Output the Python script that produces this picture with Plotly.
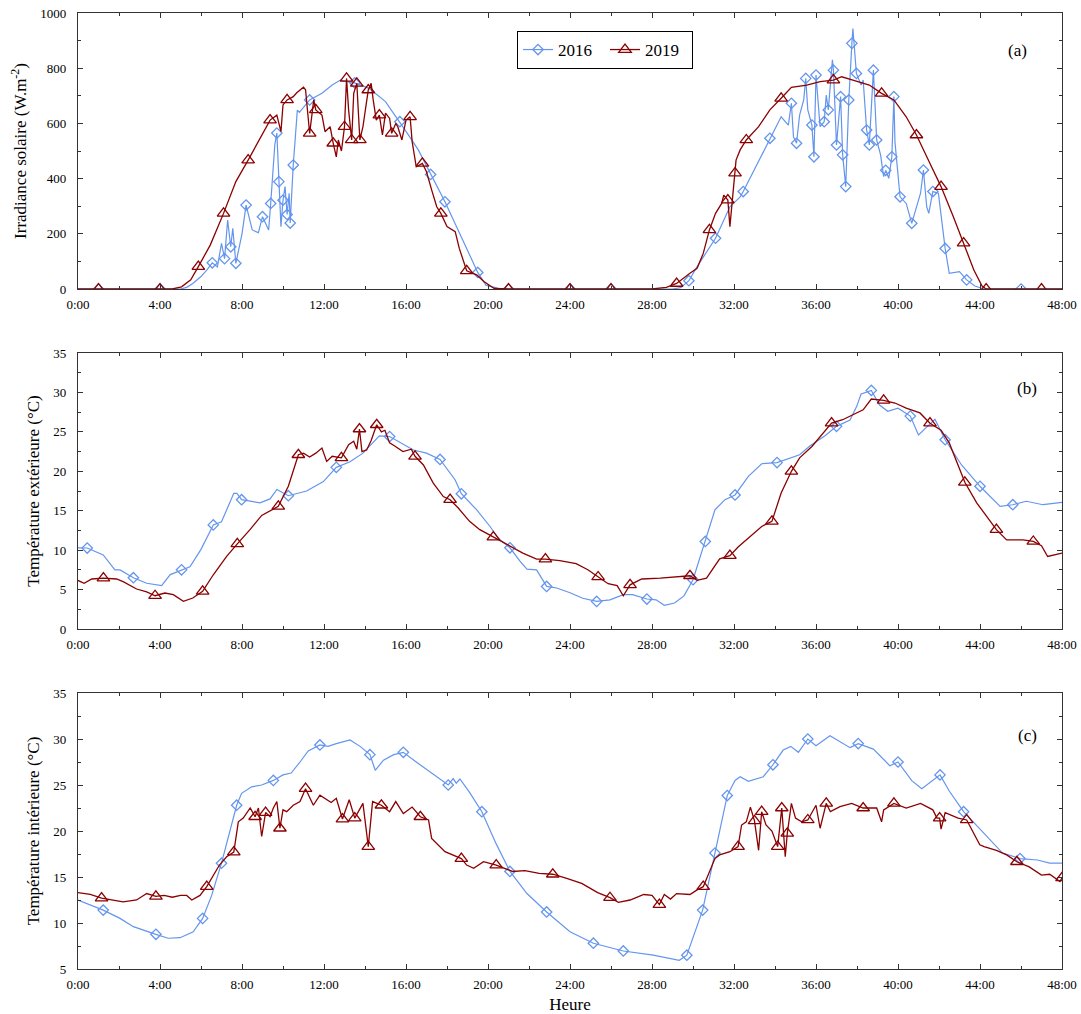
import numpy as np
import plotly.graph_objects as go

FONT = "Liberation Serif"
BLUE = "#6495ED"
RED = "#8B0000"

# ---------------- data (hours, values) ----------------
TICK_HOURS = [0, 4, 8, 12, 16, 20, 24, 28, 32, 36, 40, 44, 48]
TICK_LABELS = ["0:00", "4:00", "8:00", "12:00", "16:00", "20:00", "24:00",
               "28:00", "32:00", "36:00", "40:00", "44:00", "48:00"]
SERIES_NAMES = ["2016", "2019"]

# (a) solar irradiance W/m2
irr16_h = [0, 1, 2, 3, 4, 4.5, 5.0, 5.3, 5.6, 6.0, 6.3, 6.55, 6.8, 7.0, 7.15, 7.3, 7.45, 7.55, 7.7, 8.0,
           8.2, 8.5, 8.8, 9.0, 9.3, 9.4, 9.6, 9.7, 9.8, 9.9, 10.0, 10.1, 10.2, 10.3, 10.35, 10.5, 10.7,
           10.8, 11.3, 11.9, 12.4, 12.8, 13.5, 14.2, 15.0, 15.7, 16.1, 16.6, 17.2, 17.9, 18.5, 19.1,
           19.5, 19.9, 20.5, 21.0, 22, 24, 26, 28, 29.0, 29.4, 29.8, 30.2, 30.6, 31.1, 31.8, 32.3,
           32.45, 33.1, 33.75, 34.3, 34.65, 34.8, 34.9, 35.05, 35.2, 35.4, 35.5, 35.6, 35.8, 35.9,
           36.0, 36.2, 36.4, 36.5, 36.6, 36.8, 36.85, 37.0, 37.2, 37.3, 37.45, 37.6, 37.75, 37.8,
           37.97, 38.2, 38.3, 38.47, 38.6, 38.7, 38.8, 38.96, 39.15, 39.3, 39.4, 39.55, 39.7, 39.8,
           39.85, 40.1, 40.3, 40.4, 40.67, 40.9, 41.1, 41.24, 41.4, 41.5, 41.7, 41.97, 42.3, 42.5,
           43.0, 43.35, 43.75, 44.2, 45, 46, 47, 48]
irr16_v = [0, 0, 0, 0, 0, 0, 0, 6, 20, 45, 70, 95, 80, 165, 110, 250, 153, 220, 93, 200,
           304, 214, 204, 262, 214, 310, 522, 565, 389, 226, 322, 371, 270, 347, 239, 449, 648,
           640, 685, 709, 739, 757, 747, 727, 679, 606, 560, 504, 415, 316, 220, 123,
           60, 14, 2, 0, 0, 0, 0, 0, 0, 5, 30, 81, 125, 184, 298, 334,
           353, 450, 546, 624, 594, 673, 552, 528, 630, 685, 763, 649, 594, 479,
           775, 588, 606, 703, 649, 830, 793, 522, 697, 486, 371, 685, 890, 944,
           781, 739, 757, 576, 522, 679, 793, 540, 486, 407, 430, 401, 479, 697,
           534, 334, 316, 310, 238, 298, 347, 431, 298, 274, 353, 347, 147, 57,
           63, 33, 11, 0, 0, 0, 0, 0]

irr19_h = [0, 1, 2, 3, 4, 4.6, 5.05, 5.5, 5.87, 6.45, 7.1, 7.7, 8.3, 8.9, 9.37, 9.7, 9.9, 10.0,
           10.2, 10.5, 10.67, 11.0, 11.1, 11.3, 11.5, 11.6, 11.9, 12.05, 12.3, 12.45, 12.6, 12.7,
           12.85, 13.0, 13.1, 13.2, 13.35, 13.45, 13.6, 13.75, 13.9, 14.16, 14.3, 14.4, 14.55,
           14.7, 14.85, 15.0, 15.2, 15.3, 15.5, 15.6, 15.8, 16.0, 16.2, 16.3, 16.5, 16.8, 17.0,
           17.25, 17.5, 17.7, 18.0, 18.4, 18.6, 18.96, 19.45, 19.8, 20.3, 21, 22, 24, 26, 28,
           28.7, 29.2, 29.85, 30.2, 30.5, 30.8, 31.1, 31.4, 31.5, 31.7, 31.8, 32.05, 32.1, 32.3,
           32.6, 33.2, 33.75, 34.3, 34.8, 35.55, 36.2, 36.85, 37.25, 37.8, 38.6, 39.2, 39.8, 40.4,
           40.9, 41.56, 42.1, 42.7, 43.2, 43.7, 44.1, 44.3, 45, 46, 47, 48]
irr19_v = [0, 0, 0, 0, 0, 0, 8, 33, 81, 159, 274, 389, 467, 546, 612, 630, 570, 667,
           685, 697, 711, 731, 722, 564, 685, 649, 630, 570, 588, 528, 479, 540,
           500, 588, 763, 649, 540, 709, 745, 540, 588, 721, 745, 685, 612,
           630, 558, 637, 618, 564, 600, 588, 540, 612, 624, 534, 443, 455, 425,
           359, 298, 274, 226, 208, 147, 66, 51, 27, 2, 0, 0, 0, 0, 0,
           6, 20, 57, 75, 129, 214, 274, 310, 340, 322, 226, 420, 467, 504,
           540, 588, 649, 691, 731, 739, 751, 757, 769, 757, 739, 709, 685, 624,
           558, 455, 371, 262, 166, 69, 11, 0, 0, 0, 0, 0]

# (b) outdoor temperature degC
text16_h = [0.0, 0.45, 1.23, 1.8, 2.05, 2.7, 3.35, 4.08, 4.5, 5.05, 5.46, 6.0, 6.6, 7.0, 7.6, 7.75,
            7.98, 8.88, 9.37, 9.7, 10.26, 11.15, 11.97, 12.6, 13.27, 13.9, 14.7, 15.2, 15.85,
            16.36, 17.0, 17.66, 18.4, 18.7, 19.45, 20.1, 20.5, 21.07, 21.56, 21.9, 22.37, 22.86,
            23.35, 24.0, 24.62, 25.3, 25.95, 26.6, 27.05, 27.75, 28.2, 28.6, 29.1, 29.56, 30.0,
            30.6, 31.07, 31.56, 32.05, 32.7, 33.35, 34.1, 35.2, 35.7, 36.44, 37.0, 37.66, 37.98,
            38.2, 38.7, 39.1, 39.5, 40.0, 40.6, 41.0, 41.4, 41.8, 42.3, 43.1, 44.0, 44.98, 45.6,
            46.26, 47.07, 47.66, 48.0]
text16_v = [10.3, 10.27, 9.4, 7.5, 7.5, 6.5, 5.8, 5.5, 6.9, 7.5, 7.9, 10.1, 13.2, 13.6, 17.2, 17.2,
            16.4, 16.0, 16.5, 17.7, 16.9, 17.5, 18.7, 20.5, 21.2, 22.3, 24.5, 24.4, 23.4,
            22.7, 22.3, 21.5, 18.9, 17.15, 15.1, 13.0, 11.5, 10.3, 8.6, 7.6, 7.5, 5.4,
            5.2, 4.6, 3.9, 3.5, 3.7, 4.35, 4.35, 3.8, 3.7, 3.0, 3.3, 4.2, 6.25,
            11.1, 15.1, 16.4, 17.0, 19.35, 20.96, 21.1, 22.1, 23.2, 24.5, 25.7, 26.5, 28.2,
            29.8, 30.26, 28.4, 27.6, 28.0, 27.0, 24.6, 25.6, 26.6, 24.0, 20.8, 18.1, 15.55, 15.76,
            16.2, 15.76, 16.0, 16.05]

text19_h = [0.0, 0.3, 0.67, 1.24, 1.88, 2.2, 2.86, 3.35, 3.76, 4.24, 4.65, 5.14, 5.6, 6.08, 6.6,
            7.25, 7.77, 8.39, 8.96, 9.77, 10.26, 10.75, 11.0, 11.3, 11.6, 11.9, 12.13, 12.4, 12.85,
            13.2, 13.45, 13.6, 13.73, 13.85, 14.08, 14.3, 14.57, 14.8, 14.97, 15.2, 15.45, 15.85,
            16.26, 16.44, 16.85, 17.33, 17.82, 18.15, 18.55, 19.1, 19.6, 20.26, 21.07, 21.7, 22.37,
            22.8, 23.5, 24.3, 24.87, 25.37, 25.86, 26.3, 26.6, 26.93, 27.5, 28.4, 29.2, 29.85,
            30.2, 30.66, 31.3, 31.8, 32.2, 32.8, 33.35, 33.85, 34.05, 34.3, 34.8, 35.2, 35.8, 36.2,
            36.76, 37.3, 37.8, 38.3, 38.7, 39.3, 39.85, 40.4, 41.07, 41.56, 42.1, 42.5, 43.26,
            43.84, 44.8, 45.3, 46.1, 46.6, 47.0, 47.3, 48.0]
text19_v = [6.16, 5.8, 6.34, 6.46, 6.34, 6.0, 5.07, 4.7, 4.22, 4.56, 4.35, 3.5, 3.93, 4.77, 6.88,
            9.2, 10.8, 12.6, 14.4, 15.55, 18.1, 22.1, 22.3, 21.8, 22.3, 22.95, 21.25, 21.9, 21.7,
            23.37, 23.8, 22.8, 25.36, 22.5, 22.7, 23.9, 25.9, 25.0, 25.2, 23.6, 23.2, 22.5,
            22.8, 21.9, 20.8, 18.5, 16.8, 16.4, 15.34, 13.65, 12.6, 11.66, 10.48, 9.63, 8.87,
            8.87, 8.66, 8.28, 7.52, 6.6, 5.74, 5.5, 4.22, 5.6, 6.34, 6.46, 6.6, 6.75,
            6.16, 6.46, 8.9, 9.3, 10.4, 11.74, 13.0, 13.65, 15.13, 17.25, 20.0, 21.7, 23.15, 24.4,
            26.1, 26.54, 27.2, 27.8, 29.16, 29.0, 28.66, 28.0, 27.4, 26.1, 25.2, 23.6, 18.6,
            16.0, 12.6, 11.3, 11.3, 11.1, 10.56, 9.2, 9.63]

# (c) indoor temperature degC
tint16_h = [0.0, 1.23, 2.05, 2.7, 3.8, 4.4, 4.98, 5.62, 6.08, 6.52, 7.0, 7.4, 7.74, 7.98, 8.47, 8.96,
            9.53, 10.0, 10.4, 10.83, 11.23, 11.8, 12.2, 12.6, 13.27, 13.76, 14.24, 14.5, 14.9,
            15.4, 15.87, 16.5, 17.25, 18.06, 18.3, 18.45, 18.63, 19.1, 19.7, 20.4, 21.07, 21.9,
            22.86, 24.0, 25.14, 26.6, 28.06, 29.33, 29.7, 30.1, 30.47, 31.07, 31.67, 32.05, 32.3,
            32.7, 33.43, 33.9, 34.4, 34.77, 35.14, 35.6, 36.0, 36.68, 37.66, 38.06, 38.8, 39.6,
            40.0, 40.67, 41.16, 42.05, 42.5, 43.2, 44.3, 45.1, 45.95, 46.8, 47.4, 48.0]
tint16_v = [12.5, 11.4, 10.5, 9.6, 8.77, 8.34, 8.4, 9.05, 10.5, 13.0, 16.5, 19.9, 22.8, 24.1, 24.8, 25.0,
            25.5, 26.1, 26.3, 27.5, 28.7, 29.35, 29.2, 29.5, 29.9, 29.2, 28.3, 26.6, 27.7,
            28.3, 28.55, 27.5, 26.27, 25.0, 25.7, 25.2, 25.65, 24.2, 22.1, 18.6, 15.6, 13.2,
            11.2, 9.05, 7.8, 6.96, 6.5, 5.94, 6.5, 9.05, 11.4, 17.6, 23.85, 25.5, 25.9,
            25.4, 25.9, 27.2, 28.8, 29.2, 28.55, 30.0, 29.27, 30.36, 29.06, 29.5, 28.9, 27.1,
            27.5, 25.47, 24.6, 26.1, 24.35, 22.1, 19.46, 17.6, 17.0, 16.85, 16.5, 16.5]

tint19_h = [0.0, 0.6, 1.15, 1.72, 2.2, 2.86, 3.35, 3.8, 4.2, 4.6, 5.0, 5.3, 5.55, 5.95, 6.28, 6.9,
            7.25, 7.6, 7.82, 8.06, 8.4, 8.64, 8.8, 8.96, 9.15, 9.37, 9.53, 9.7, 9.85, 10.0, 10.18,
            10.5, 10.83, 11.1, 11.48, 11.8, 12.1, 12.35, 12.6, 12.9, 13.23, 13.5, 13.9, 14.16,
            14.37, 14.8, 15.2, 15.5, 15.87, 16.3, 16.7, 17.1, 17.25, 17.9, 18.7, 18.96, 19.3,
            19.78, 20.4, 21.2, 21.8, 22.5, 23.16, 23.84, 24.57, 25.35, 25.95, 26.36, 26.93, 27.6,
            28.0, 28.2, 28.36, 28.6, 28.9, 29.2, 29.85, 30.2, 30.5, 31.07, 31.3, 31.8, 32.2,
            32.37, 32.6, 32.8, 33.0, 33.2, 33.35, 33.56, 33.85, 34.13, 34.33, 34.5, 34.6, 34.8,
            35.0, 35.3, 35.6, 36.0, 36.2, 36.5, 36.7, 37.17, 37.74, 38.3, 38.96, 39.2, 39.3,
            39.8, 40.4, 41.1, 41.7, 41.9, 42.03, 42.1, 42.3, 42.93, 43.35, 43.99, 44.2, 44.8,
            45.3, 45.8, 46.4, 47.0, 47.4, 47.9, 48.0]
tint19_v = [13.3, 13.1, 12.7, 12.5, 12.3, 12.5, 13.2, 12.9, 13.0, 12.8, 13.0, 13.0, 12.5, 13.0, 13.95, 16.3,
            17.2, 17.7, 21.0, 21.4, 22.5, 21.55, 22.5, 19.4, 22.0, 21.55, 22.5, 23.2, 20.3, 22.3, 22.1,
            22.8, 23.2, 24.6, 22.8, 23.9, 23.5, 23.1, 23.55, 21.3, 23.4, 21.4, 23.0, 18.3,
            23.2, 22.8, 22.1, 23.2, 21.9, 22.6, 21.55, 21.2, 19.2, 17.75, 17.0, 16.3, 15.95,
            16.66, 16.3, 15.6, 15.7, 15.4, 15.3, 14.86, 14.3, 13.3, 12.75, 12.25, 12.5, 13.1,
            13.0, 12.4, 12.0, 13.1, 12.6, 13.2, 13.1, 13.6, 13.95, 17.0, 17.4, 17.75, 18.3,
            20.65, 21.0, 22.6, 21.1, 17.9, 22.1, 20.65, 20.0, 18.3, 22.5, 17.2, 19.75, 23.0,
            21.4, 21.0, 21.2, 22.8, 20.3, 23.0, 22.1, 22.65, 23.0, 22.5, 22.5, 21.0, 22.3,
            23.0, 22.5, 23.0, 22.3, 21.4, 21.4, 20.2, 22.0, 21.4, 21.2, 18.5, 18.3, 17.9,
            17.4, 16.66, 16.1, 15.2, 15.3, 14.5, 14.9]

# ---------------- layout geometry ----------------
W, H = 1081, 1014
ML, MR, MT, MB = 78, 19, 13, 45
PLOT_W = W - ML - MR          # 984
PLOT_H = H - MT - MB          # 956
PANEL_PX = [(13, 289), (353, 629), (693, 969)]  # top,bottom in page px


def py2paper(page_y):
    return (H - MB - page_y) / PLOT_H


def px2paper(page_x):
    return (page_x - ML) / PLOT_W


YRANGES = [(0, 1000), (0, 35), (5, 35)]
SX = PLOT_W / 48.0
SPACING = 56.0


def marker_indices(h, v, yr, offset):
    h = np.asarray(h, float)
    v = np.asarray(v, float)
    sy = 276.0 / (yr[1] - yr[0])
    px = h * SX
    py = v * sy
    d = np.concatenate([[0.0], np.cumsum(np.hypot(np.diff(px), np.diff(py)))])
    idx = []
    t = offset
    while t <= d[-1]:
        i = int(np.argmin(np.abs(d - t)))
        if i not in idx:
            idx.append(i)
        t += SPACING
    return idx


fig = go.Figure()

panels = [
    (irr16_h, irr16_v, irr19_h, irr19_v, 30, 16),
    (text16_h, text16_v, text19_h, text19_v, 9, 25),
    (tint16_h, tint16_v, tint19_h, tint19_v, 27, 24),
]

styles = [
    dict(color=BLUE, symbol="diamond-open", size=8, lw=1.2),
    dict(color=RED, symbol="triangle-up-open", size=11, lw=1.3),
]

for p, (h1, v1, h2, v2, o1, o2) in enumerate(panels):
    xa = "x" if p == 0 else f"x{p+1}"
    ya = "y" if p == 0 else f"y{p+1}"
    for (hh, vv, off), st in zip([(h1, v1, o1), (h2, v2, o2)], styles):
        fig.add_trace(go.Scatter(x=hh, y=vv, mode="lines", xaxis=xa, yaxis=ya,
                                 line=dict(color=st["color"], width=st["lw"]),
                                 showlegend=False, hoverinfo="skip"))
        idx = marker_indices(hh, vv, YRANGES[p], off)
        fig.add_trace(go.Scatter(x=[hh[i] for i in idx], y=[vv[i] for i in idx],
                                 mode="markers", xaxis=xa, yaxis=ya,
                                 marker=dict(symbol=st["symbol"], size=st["size"], color=st["color"],
                                             line=dict(color=st["color"], width=1.3)),
                                 showlegend=False, hoverinfo="skip"))

# legend entries
for name, st in zip(SERIES_NAMES, styles):
    fig.add_trace(go.Scatter(x=[None], y=[None], mode="lines+markers", name=name,
                             line=dict(color=st["color"], width=st["lw"]),
                             marker=dict(symbol=st["symbol"], size=st["size"], color=st["color"],
                                         line=dict(color=st["color"], width=1.3))))

AXC = "#333333"
common = dict(showline=True, linecolor=AXC, linewidth=1.2, mirror="ticks", ticks="inside",
              ticklen=5, tickwidth=1, tickcolor=AXC, showgrid=False, zeroline=False,
              tickfont=dict(family=FONT, size=13, color="black"), automargin=False,
              ticklabeloverflow="allow")

YTITLES = ["Irradiance solaire (W.m<sup>-2</sup>)", "Température extérieure (°C)",
           "Température intérieure (°C)"]
YDTICK = [200, 5, 5]
YMINOR = [100, 2.5, 2.5]
PANEL_LABELS = ["(a)", "(b)", "(c)"]
LABEL_POS = [(1017, 50), (1027, 388), (1027, 735)]  # page px

layout = dict(width=W, height=H, margin=dict(l=ML, r=MR, t=MT, b=MB, autoexpand=False),
              plot_bgcolor="white", paper_bgcolor="white",
              font=dict(family=FONT, color="black"))

for p in range(3):
    xk = "xaxis" if p == 0 else f"xaxis{p+1}"
    yk = "yaxis" if p == 0 else f"yaxis{p+1}"
    ya = "y" if p == 0 else f"y{p+1}"
    xa = "x" if p == 0 else f"x{p+1}"
    xd = dict(common, domain=[0, 1], anchor=ya, range=[0, 48], tickmode="array",
              tickvals=TICK_HOURS, ticktext=TICK_LABELS, ticklabelstandoff=3,
              minor=dict(ticks="inside", ticklen=3, tickwidth=1, tickcolor=AXC,
                         tickmode="linear", tick0=0, dtick=2))
    if p == 2:
        xd["title"] = dict(text="Heure", font=dict(family=FONT, size=17), standoff=7)
    layout[xk] = xd
    top, bot = PANEL_PX[p]
    y0, y1 = YRANGES[p]
    layout[yk] = dict(common, domain=[py2paper(bot), py2paper(top)], anchor=xa, range=[y0, y1],
                      tick0=y0, dtick=YDTICK[p], ticklabelstandoff=8,
                      minor=dict(ticks="inside", ticklen=3, tickwidth=1, tickcolor=AXC,
                                 tick0=y0, dtick=YMINOR[p]),
                      title=dict(text=YTITLES[p], font=dict(family=FONT, size=17), standoff=9))

annotations = []
for lab, (lx, ly) in zip(PANEL_LABELS, LABEL_POS):
    annotations.append(dict(text=lab, xref="paper", yref="paper",
                            x=px2paper(lx), y=py2paper(ly),
                            showarrow=False, font=dict(family=FONT, size=17),
                            xanchor="center", yanchor="middle"))
layout["annotations"] = annotations
layout["showlegend"] = True
layout["legend"] = dict(x=px2paper(517), y=py2paper(31), xanchor="left",
                        yanchor="top", orientation="h", bgcolor="white",
                        bordercolor="black", borderwidth=1,
                        font=dict(family=FONT, size=17), itemwidth=30, entrywidth=42)

fig.update_layout(**layout)
# remove the browser's default 8px body margin so the figure fills the window
fig.write_html("out.html", config={"displayModeBar": False},
               post_script="document.body.style.margin='0';")
